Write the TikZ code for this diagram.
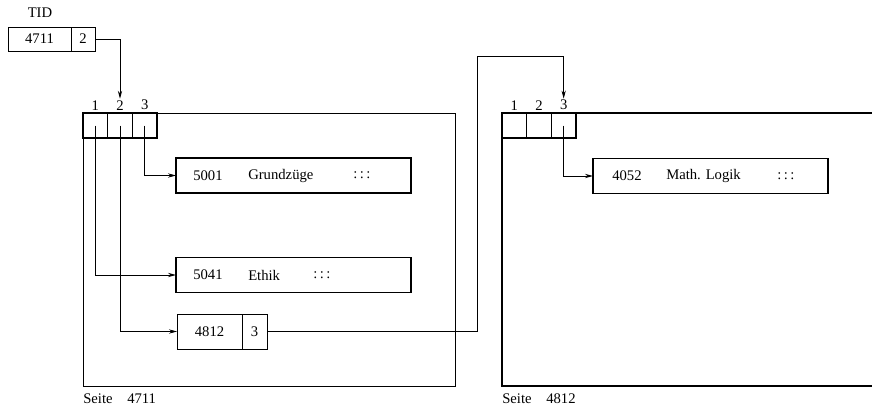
\documentclass[tikz,border=0pt]{standalone}
\usepackage{fontspec}
\setmainfont{Liberation Serif}
\usetikzlibrary{positioning, arrows.meta}
\tikzstyle{cell}=[draw, line width=0.7pt, inner sep=0pt, outer sep=0pt, minimum height=18pt]
\tikzstyle{slot}=[draw, line width=0.9pt, inner sep=0pt, outer sep=0pt, minimum width=18.5pt, minimum height=18.75pt]
\tikzstyle{rec}=[draw, line width=1pt, inner sep=0pt, outer sep=0pt, minimum width=176.25pt, minimum height=26.25pt]
\tikzstyle{txt}=[inner sep=0pt, anchor=west]
\tikzstyle{idx}=[inner sep=1pt]
\tikzstyle{ptr}=[->, line width=0.6pt]
\tikzset{>={Stealth[length=6pt, width=3.2pt]}}

\begin{document}
\begin{tikzpicture}[x=0.75pt, y=-0.75pt, font=\fontsize{11}{13}\selectfont]
\useasboundingbox (0,0) rectangle (872,407);
% the tuple identifier
\node (tid) at (40,13) {TID};
\node[cell, minimum width=47.25pt, anchor=west] (tidpage) at (8,39) {4711};
\node[cell, minimum width=18pt, anchor=west] (tidslot) at (tidpage.east) {2};
% the page 4711
\node[draw, line width=0.9pt, inner sep=0pt, minimum width=279pt, minimum height=204.75pt, anchor=north west] (page1) at (83,113) {};
\node[txt] (cap1) at (83,399) {Seite\quad 4711};
\node[slot, anchor=north west] (s11) at (83,113) {};
\node[slot, right=0pt of s11] (s12) {};
\node[slot, right=0pt of s12] (s13) {};
\node[idx, above=1pt of s11] (n11) {1};
\node[idx, above=1pt of s12] (n12) {2};
\node[idx, above=1pt of s13] (n13) {3};
% the records on page 4711
\node[rec, anchor=west] (r1) at (176,175.5) {};
\node[txt, right=12.75pt of r1.west] (r1num) {5001};
\node[txt, right=54pt of r1.west] (r1name) {Grundzüge};
\node[txt, right=132.75pt of r1.west] (r1dots) {:\,:\,:};
\node[rec, anchor=west] (r2) at (176,275) {};
\node[txt, right=12.75pt of r2.west] (r2num) {5041};
\node[txt, right=54pt of r2.west] (r2name) {Ethik};
\node[txt, right=102.75pt of r2.west] (r2dots) {:\,:\,:};
\node[cell, minimum width=48.75pt, minimum height=26.25pt, anchor=west] (r3) at (177,331.5) {4812};
\node[cell, minimum width=18.75pt, minimum height=26.25pt, anchor=west] (p3) at (r3.east) {3};
% the page 4812
\coordinate (pg2top) at (872,113);
\coordinate (pg2bot) at (872,386);
\draw[line width=0.9pt] (pg2top) -| (502,386) -- (pg2bot);
\node[txt] (cap2) at (502,399) {Seite\quad 4812};
\node[slot, anchor=north west] (s21) at (502,113) {};
\node[slot, right=0pt of s21] (s22) {};
\node[slot, right=0pt of s22] (s23) {};
\node[idx, above=1pt of s21] (n21) {1};
\node[idx, above=1pt of s22] (n22) {2};
\node[idx, above=1pt of s23] (n23) {3};
% the record on page 4812
\node[rec, anchor=west] (r4) at (593,176) {};
\node[txt, right=14.25pt of r4.west] (r4num) {4052};
\node[txt, right=54.75pt of r4.west] (r4name) {Math. Logik};
\node[txt, right=138pt of r4.west] (r4dots) {:\,:\,:};
% the pointers
\coordinate (up) at (477,56);
\draw[ptr] (tidslot.east) -| (n12.north);
\draw[ptr] (s13.center) |- (r1.west);
\draw[ptr] (s11.center) |- (r2.west);
\draw[ptr] (s12.center) |- (r3.west);
\draw[ptr] (p3.east) -| (up) -| (n23.north);
\draw[ptr] (s23.center) |- (r4.west);
\end{tikzpicture}
\end{document}
